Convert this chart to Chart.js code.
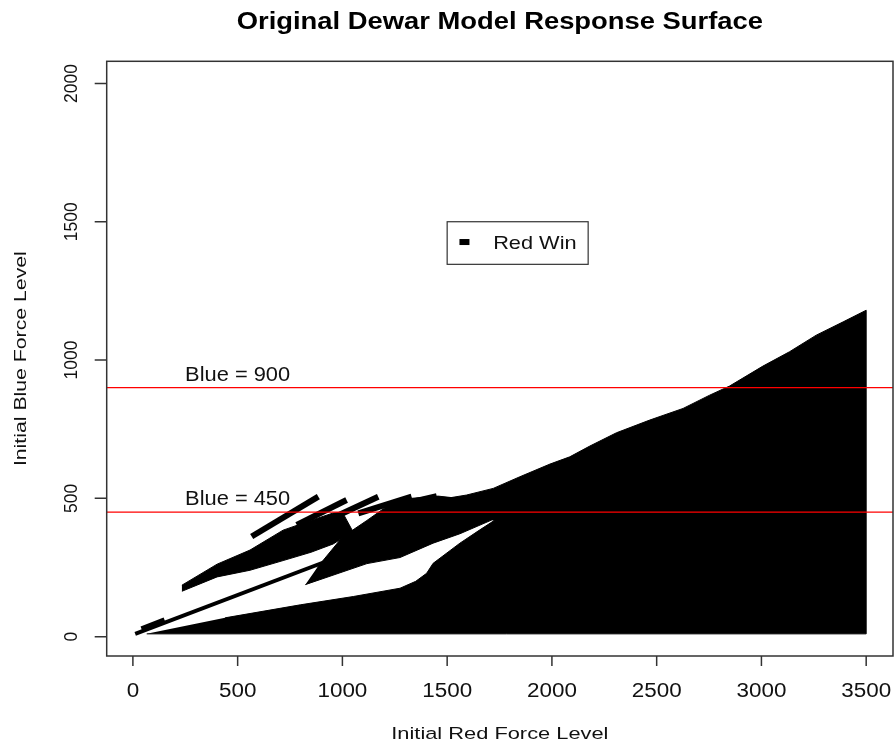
<!DOCTYPE html>
<html>
<head>
<meta charset="utf-8">
<script src="https://cdn.jsdelivr.net/npm/chart.js@4.4.1/dist/chart.umd.min.js"></script>
<style>
  html, body { margin: 0; padding: 0; background: #fff; }
  #wrap { width: 895px; height: 744px; }
</style>
</head>
<body>
<div id="wrap"><canvas id="surface" width="895" height="744"></canvas></div>
<script>
// axis ticks
const redForceTicks = [0, 500, 1000, 1500, 2000, 2500, 3000, 3500];
const blueForceTicks = [0, 500, 1000, 1500, 2000];
const xLimits = [-125, 3628];
const yLimits = [-70, 2080];

// reference lines
const blueLevels = [900, 450];

// red win region as [red, blue] outlines
const redWinRegion = [
    [66, 10], [3500, 10], [3500, 1180], [3390, 1138], [3262, 1090], [3134, 1030],
    [3007, 978], [2848, 906], [2753, 873], [2626, 825], [2467, 783], [2308, 737],
    [2181, 689], [2085, 650], [1991, 624], [1847, 578], [1720, 536], [1593, 512],
    [1513, 502], [1440, 505], [1725, 420], [1656, 386], [1561, 338], [1433, 265],
    [1402, 229], [1350, 200], [1275, 175], [1052, 145], [799, 115], [440, 68]
];
const clusterLow = [
    [234, 164], [402, 216], [559, 240], [717, 275], [850, 305], [956, 335],
    [1050, 380], [1000, 450], [956, 447], [850, 420], [717, 385], [559, 313],
    [402, 262], [234, 186]
];
const clusterHigh = [
    [823, 188], [1117, 264], [1275, 286], [1433, 338], [1561, 372], [1720, 424],
    [1553, 500], [1457, 508], [1330, 500], [1203, 466], [1117, 420], [1000, 360],
    [880, 250]
];
const wideStreaks = [
    [[567, 362], [885, 506]],
    [[782, 404], [1020, 494]],
    [[917, 416], [1171, 506]],
    [[1076, 446], [1330, 506]],
    [[1203, 464], [1450, 508]]
];
const thinStreaks = [
    [[11, 10], [975, 287]],
    [[40, 30], [150, 62]]
];

const toPoints = arr => arr.map(p => ({ x: p[0], y: p[1] }));

const datasets = [];
blueLevels.forEach(level => {
    datasets.push({
        data: [{ x: xLimits[0], y: level }, { x: xLimits[1], y: level }],
        showLine: true,
        borderColor: '#ff0000',
        borderWidth: 1.2,
        pointRadius: 0,
        order: 0
    });
});
[redWinRegion, clusterLow, clusterHigh].forEach(shape => {
    datasets.push({
        data: toPoints(shape),
        showLine: true,
        fill: 'shape',
        backgroundColor: '#000',
        borderColor: '#000',
        borderWidth: 1,
        pointRadius: 0,
        order: 2
    });
});
wideStreaks.forEach(s => {
    datasets.push({
        data: toPoints(s),
        showLine: true,
        borderColor: '#000',
        borderWidth: 6,
        borderCapStyle: 'butt',
        pointRadius: 0,
        order: 1
    });
});
thinStreaks.forEach(s => {
    datasets.push({
        data: toPoints(s),
        showLine: true,
        borderColor: '#000',
        borderWidth: 4,
        borderCapStyle: 'butt',
        pointRadius: 0,
        order: 1
    });
});

function drawLabel(ctx, text, x, y, o) {
    ctx.save();
    ctx.translate(x, y);
    if (o.rotate) ctx.rotate(-Math.PI / 2);
    ctx.scale(o.stretch || 1, 1);
    ctx.font = (o.bold ? 'bold ' : '') + o.size + 'px "Liberation Sans", Arial, sans-serif';
    ctx.fillStyle = o.color || '#111';
    ctx.textAlign = o.align || 'center';
    ctx.textBaseline = 'alphabetic';
    ctx.fillText(text, 0, 0);
    ctx.restore();
}

const rFrame = {
    id: 'rFrame',
    afterDraw(chart) {
        const ctx = chart.ctx;
        const a = chart.chartArea;
        const xs = chart.scales.x;
        const ys = chart.scales.y;

        ctx.save();
        ctx.strokeStyle = '#333';
        ctx.lineWidth = 1.5;
        ctx.strokeRect(a.left, a.top, a.right - a.left, a.bottom - a.top);

        ctx.beginPath();
        redForceTicks.forEach(v => {
            const px = xs.getPixelForValue(v);
            ctx.moveTo(px, a.bottom);
            ctx.lineTo(px, a.bottom + 10);
        });
        blueForceTicks.forEach(v => {
            const py = ys.getPixelForValue(v);
            ctx.moveTo(a.left, py);
            ctx.lineTo(a.left - 12, py);
        });
        ctx.stroke();
        ctx.restore();

        redForceTicks.forEach(v => {
            drawLabel(ctx, String(v), xs.getPixelForValue(v), a.bottom + 41, { size: 19.5, stretch: 1.15 });
        });
        blueForceTicks.forEach(v => {
            drawLabel(ctx, String(v), a.left - 30, ys.getPixelForValue(v), { size: 17.5, rotate: true });
        });

        const cx = (a.left + a.right) / 2;
        const cy = (a.top + a.bottom) / 2;
        drawLabel(ctx, 'Original Dewar Model Response Surface', cx, 29, { size: 23, bold: true, stretch: 1.19, color: '#000' });
        drawLabel(ctx, 'Initial Red Force Level', cx, 739, { size: 17.2, stretch: 1.27 });
        drawLabel(ctx, 'Initial Blue Force Level', 25.7, cy, { size: 17.2, stretch: 1.236, rotate: true });

        blueLevels.forEach(level => {
            const label = level === 900 ? 950 : 500;
            drawLabel(ctx, 'Blue = ' + level, xs.getPixelForValue(500), ys.getPixelForValue(label) + 7,
                { size: 19.5, stretch: 1.12 });
        });

        // legend box anchored at (1500, 1500)
        const lx = xs.getPixelForValue(1500);
        const ly = ys.getPixelForValue(1500);
        ctx.save();
        ctx.fillStyle = '#fff';
        ctx.fillRect(lx, ly, 141, 42.6);
        ctx.strokeStyle = '#333';
        ctx.lineWidth = 1.2;
        ctx.strokeRect(lx, ly, 141, 42.6);
        ctx.fillStyle = '#000';
        ctx.fillRect(lx + 12.3, ly + 17.3, 10, 6);
        ctx.restore();
        drawLabel(ctx, 'Red Win', lx + 46, ly + 27, { size: 18.6, stretch: 1.17, align: 'left' });
    }
};

new Chart(document.getElementById('surface').getContext('2d'), {
    type: 'scatter',
    data: { datasets: datasets },
    options: {
        responsive: false,
        devicePixelRatio: 1,
        animation: false,
        events: [],
        layout: { padding: { left: 106.7, top: 61.3, right: 2, bottom: 88 } },
        scales: {
            x: { type: 'linear', min: xLimits[0], max: xLimits[1], display: false },
            y: { type: 'linear', min: yLimits[0], max: yLimits[1], display: false }
        },
        plugins: {
            legend: { display: false },
            tooltip: { enabled: false }
        }
    },
    plugins: [rFrame]
});
</script>
</body>
</html>
